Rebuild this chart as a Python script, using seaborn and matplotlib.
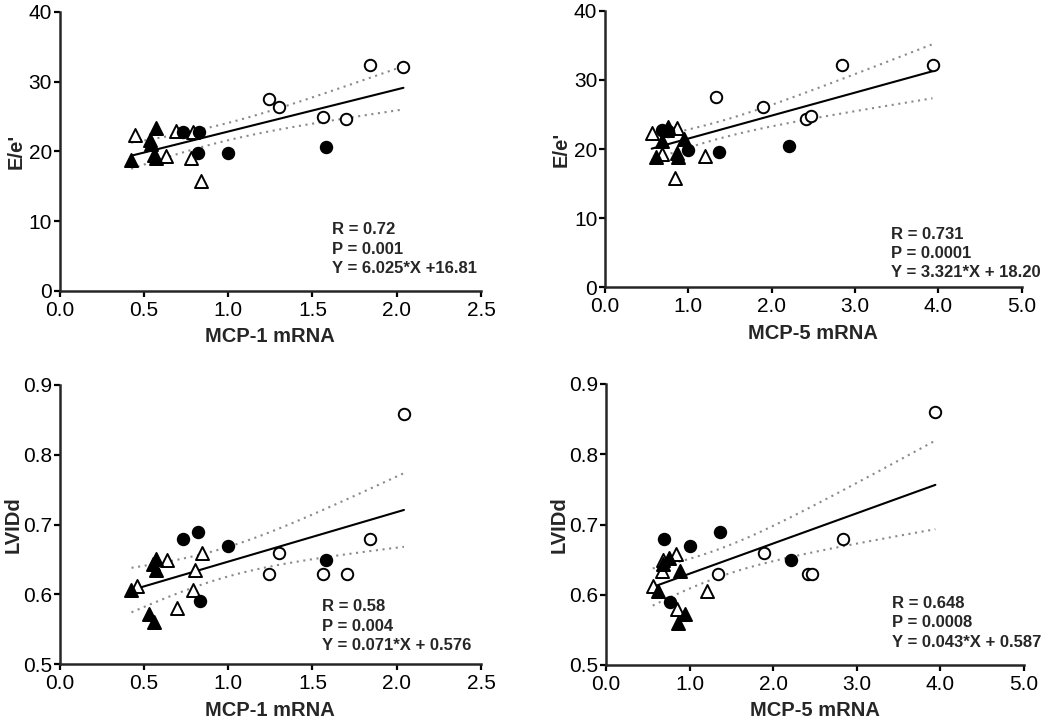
import numpy as np
import pandas as pd
import matplotlib
matplotlib.use("Agg")
import matplotlib.pyplot as plt
import seaborn as sns

# ---------------- data ----------------
# Panel A: E/e' vs MCP-1 mRNA
a_otri_x = [0.45, 0.69, 0.79, 0.63, 0.78, 0.84]
a_otri_y = [22.3, 22.9, 22.7, 19.4, 19.0, 15.75]
a_ftri_x = [0.575, 0.535, 0.545, 0.56, 0.57, 0.425]
a_ftri_y = [23.3, 21.6, 21.05, 19.5, 19.0, 18.8]
a_fcir_x = [0.73, 0.83, 0.82, 1.00, 1.58]
a_fcir_y = [22.7, 22.7, 19.7, 19.8, 20.6]
a_ocir_x = [1.24, 1.30, 1.56, 1.70, 1.84, 2.04]
a_ocir_y = [27.5, 26.3, 24.9, 24.6, 32.3, 32.1]

# Panel B: E/e' vs MCP-5 mRNA
b_otri_x = [0.56, 0.86, 0.74, 0.68, 1.20, 0.84]
b_otri_y = [22.3, 23.0, 22.7, 19.3, 19.0, 15.8]
b_ftri_x = [0.76, 0.68, 0.61, 0.86, 0.88, 0.95]
b_ftri_y = [23.2, 21.1, 18.8, 19.4, 18.9, 21.5]
b_fcir_x = [0.68, 0.76, 1.00, 1.37, 2.21]
b_fcir_y = [22.7, 22.6, 19.8, 19.6, 20.5]
b_ocir_x = [1.33, 1.89, 2.41, 2.47, 2.84, 3.93]
b_ocir_y = [27.5, 26.1, 24.3, 24.8, 32.2, 32.1]

# Panel C: LVIDd vs MCP-1 mRNA
c_otri_x = [0.46, 0.638, 0.843, 0.803, 0.789, 0.698]
c_otri_y = [0.612, 0.650, 0.659, 0.635, 0.606, 0.580]
c_ftri_x = [0.427, 0.575, 0.555, 0.571, 0.532, 0.561]
c_ftri_y = [0.606, 0.651, 0.644, 0.635, 0.572, 0.561]
c_fcir_x = [0.734, 0.823, 1.00, 1.579, 0.833]
c_fcir_y = [0.679, 0.689, 0.670, 0.649, 0.590]
c_ocir_x = [1.302, 1.243, 1.565, 1.704, 1.843, 2.043]
c_ocir_y = [0.659, 0.630, 0.630, 0.630, 0.679, 0.859]

# Panel D: LVIDd vs MCP-5 mRNA
d_otri_x = [0.68, 0.836, 0.669, 0.559, 1.203, 0.852]
d_otri_y = [0.650, 0.658, 0.634, 0.613, 0.606, 0.580]
d_ftri_x = [0.758, 0.68, 0.891, 0.618, 0.941, 0.864]
d_ftri_y = [0.652, 0.644, 0.634, 0.605, 0.572, 0.560]
d_fcir_x = [0.688, 1.00, 1.359, 2.216, 0.766]
d_fcir_y = [0.680, 0.670, 0.689, 0.649, 0.589]
d_ocir_x = [1.339, 1.889, 2.411, 2.47, 2.84, 3.94]
d_ocir_y = [0.630, 0.659, 0.630, 0.630, 0.680, 0.860]

slopes = [6.025, 3.321, 0.071, 0.043]
intercepts = [16.81, 18.20, 0.576, 0.587]
r_texts = ["R = 0.72", "R = 0.731", "R = 0.58", "R = 0.648"]
p_texts = ["P = 0.001", "P = 0.0001", "P = 0.004", "P = 0.0008"]
y_texts = ["Y = 6.025*X +16.81", "Y = 3.321*X + 18.20",
           "Y = 0.071*X + 0.576", "Y = 0.043*X + 0.587"]
x_labels = ["MCP-1 mRNA", "MCP-5 mRNA", "MCP-1 mRNA", "MCP-5 mRNA"]
y_labels = ["E/e'", "E/e'", "LVIDd", "LVIDd"]
x_ticks = [[0.0, 0.5, 1.0, 1.5, 2.0, 2.5], [0.0, 1.0, 2.0, 3.0, 4.0, 5.0],
           [0.0, 0.5, 1.0, 1.5, 2.0, 2.5], [0.0, 1.0, 2.0, 3.0, 4.0, 5.0]]
y_ticks = [[0, 10, 20, 30, 40], [0, 10, 20, 30, 40],
           [0.5, 0.6, 0.7, 0.8, 0.9], [0.5, 0.6, 0.7, 0.8, 0.9]]

panels = [
    dict(otri=(a_otri_x, a_otri_y), ftri=(a_ftri_x, a_ftri_y),
         fcir=(a_fcir_x, a_fcir_y), ocir=(a_ocir_x, a_ocir_y)),
    dict(otri=(b_otri_x, b_otri_y), ftri=(b_ftri_x, b_ftri_y),
         fcir=(b_fcir_x, b_fcir_y), ocir=(b_ocir_x, b_ocir_y)),
    dict(otri=(c_otri_x, c_otri_y), ftri=(c_ftri_x, c_ftri_y),
         fcir=(c_fcir_x, c_fcir_y), ocir=(c_ocir_x, c_ocir_y)),
    dict(otri=(d_otri_x, d_otri_y), ftri=(d_ftri_x, d_ftri_y),
         fcir=(d_fcir_x, d_fcir_y), ocir=(d_ocir_x, d_ocir_y)),
]

# ---------------- style ----------------
sns.set_style("ticks")
plt.rcParams["font.family"] = ["Liberation Sans", "DejaVu Sans"]

W, H = 1050, 723
fig = plt.figure(figsize=(W / 100, H / 100), dpi=100)

# axes boxes in pixels: left, right, top, bottom
boxes = [(59.5, 481.0, 11.7, 291.0),
         (605.0, 1021.7, 10.7, 287.5),
         (59.5, 481.0, 385.0, 664.3),
         (606.0, 1024.0, 384.0, 665.0)]
text_pos = [(332, [234, 254, 273]),
            (891, [239, 258, 277]),
            (322, [611, 631, 650]),
            (892, [608, 627, 647])]
ylab_px = [16, 561, 13, 559]

styles = {
    "otri": dict(marker="^", facecolor="white", s=88),
    "ftri": dict(marker="^", facecolor="black", s=88),
    "fcir": dict(marker="o", facecolor="black", s=68),
    "ocir": dict(marker="o", facecolor="white", s=68),
}
T_CRIT = 2.0796  # two-sided 95%, df = 21

for i, pan in enumerate(panels):
    l, r, t, b = boxes[i]
    ax = fig.add_axes([l / W, 1 - b / H, (r - l) / W, (b - t) / H])

    xs_all = np.concatenate([np.asarray(pan[k][0], float) for k in pan])
    ys_all = np.concatenate([np.asarray(pan[k][1], float) for k in pan])

    # regression line + 95% confidence band
    m, c0 = slopes[i], intercepts[i]
    xx = np.linspace(xs_all.min(), xs_all.max(), 120)
    yy = m * xx + c0
    n = len(xs_all)
    resid = ys_all - (m * xs_all + c0)
    s_res = np.sqrt(np.sum(resid ** 2) / (n - 2))
    xbar = xs_all.mean()
    sxx = np.sum((xs_all - xbar) ** 2)
    half = T_CRIT * s_res * np.sqrt(1 / n + (xx - xbar) ** 2 / sxx)

    sns.lineplot(x=xx, y=yy + half, ax=ax, color="#8a8a8a", lw=1.5,
                 linestyle=(0, (1, 2.2)), zorder=2)
    sns.lineplot(x=xx, y=yy - half, ax=ax, color="#8a8a8a", lw=1.5,
                 linestyle=(0, (1, 2.2)), zorder=2)
    sns.lineplot(x=xx, y=yy, ax=ax, color="black", lw=1.5, zorder=2)

    for key in ["otri", "ocir", "ftri", "fcir"]:
        st = styles[key]
        sns.scatterplot(x=pan[key][0], y=pan[key][1], ax=ax,
                        marker=st["marker"], s=st["s"],
                        facecolor=st["facecolor"], edgecolor="black",
                        linewidth=1.4, zorder=3, clip_on=False)

    ax.set_xlim(x_ticks[i][0], x_ticks[i][-1])
    ax.set_ylim(y_ticks[i][0], y_ticks[i][-1])
    ax.set_xticks(x_ticks[i])
    ax.set_xticklabels([f"{v:.1f}" for v in x_ticks[i]])
    ax.set_yticks(y_ticks[i])
    if i < 2:
        ax.set_yticklabels([f"{v:d}" for v in y_ticks[i]])
    else:
        ax.set_yticklabels([f"{v:.1f}" for v in y_ticks[i]])
    sns.despine(ax=ax)
    for sp in ["left", "bottom"]:
        ax.spines[sp].set_linewidth(1.8)
    ax.tick_params(axis="both", length=4, width=1.6, labelsize=15,
                   pad=1.5, color="black", labelcolor="black")
    ax.tick_params(axis="x", pad=3)

    ax.set_xlabel(x_labels[i], fontsize=14.5, fontweight="bold")
    ax.set_ylabel(y_labels[i], fontsize=14.5, fontweight="bold")
    ax.xaxis.label.set_va("center")
    ax.yaxis.label.set_va("center")
    ax.xaxis.set_label_coords(0.5, -46.0 / (b - t))
    ax.yaxis.set_label_coords((ylab_px[i] - l) / (r - l), 0.5)

    tx, tys = text_pos[i]
    for txt, ty in zip([r_texts[i], p_texts[i], y_texts[i]], tys):
        fig.text(tx / W, 1 - ty / H, txt, fontsize=12, fontweight="bold",
                 ha="left", va="baseline")

fig.savefig("out.png", dpi=100)
